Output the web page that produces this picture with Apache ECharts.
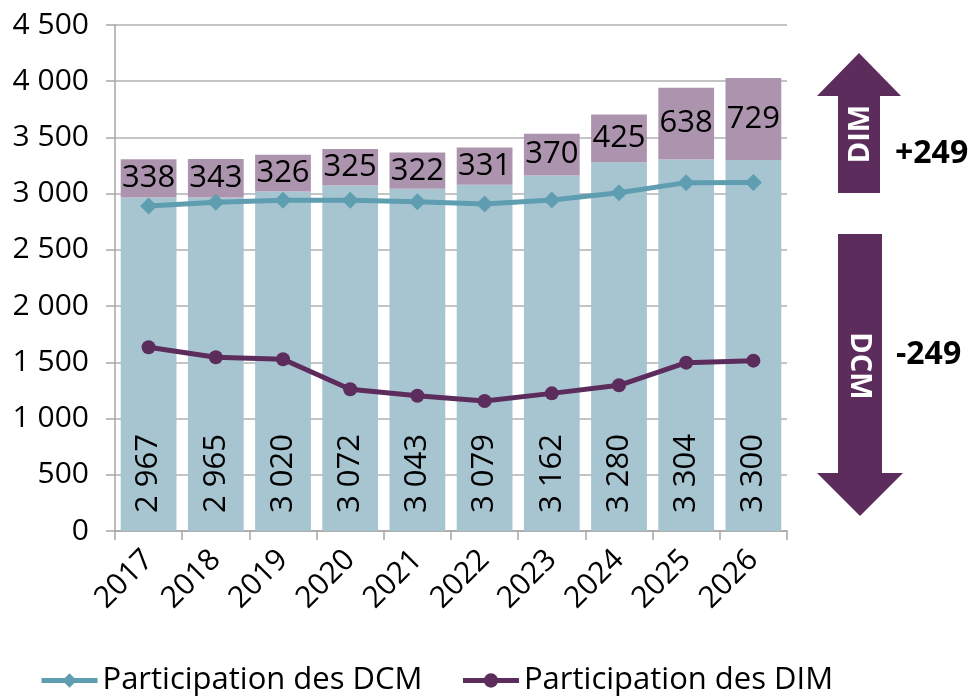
<!DOCTYPE html>
<html>
<head>
<meta charset="utf-8">
<script src="https://cdn.jsdelivr.net/npm/echarts@6/dist/echarts.min.js"></script>
<style>
  html, body { margin: 0; padding: 0; background: #fff; }
  #chart { width: 978px; height: 697px; }
</style>
</head>
<body>
<div id="chart"></div>
<script>
// 数据
var years = ['2017', '2018', '2019', '2020', '2021', '2022', '2023', '2024', '2025', '2026'];
var dcmBars = [2967, 2965, 3020, 3072, 3043, 3079, 3162, 3280, 3304, 3300];
var dimBars = [338, 343, 326, 325, 322, 331, 370, 425, 638, 729];
var dcmLine = [2890, 2923, 2941, 2941, 2929, 2908, 2944, 3009, 3098, 3100];
var dimLine = [1634, 1545, 1527, 1260, 1203, 1156, 1224, 1296, 1497, 1515];
var dimDelta = '+249';
var dcmDelta = '-249';

var FONT = 'Open Sans';
var purple = '#5c2d5c';
var teal = '#5f9db1';

// 千位空格
function fmt(v) {
  return String(v).replace(/\B(?=(\d{3})+(?!\d))/g, ' ');
}

var myChart = echarts.init(document.getElementById('chart'));

var option = {
  animation: false,
  textStyle: { fontFamily: FONT },
  grid: { left: 115, right: 191, top: 25, bottom: 166 },
  legend: {
    data: ['Participation des DCM', 'Participation des DIM'],
    left: 34,
    top: 660,
    itemWidth: 56,
    itemHeight: 18,
    itemGap: 38,
    lineStyle: { width: 5 },
    textStyle: { fontSize: 31, color: '#000', fontFamily: FONT }
  },
  xAxis: {
    type: 'category',
    data: years,
    axisLine: { lineStyle: { color: '#a6a6a6', width: 1.5 } },
    axisTick: { show: true, length: 9, lineStyle: { color: '#a6a6a6', width: 1.5 } },
    axisLabel: { rotate: 45, fontSize: 30, color: '#000', margin: 24, fontFamily: FONT }
  },
  yAxis: {
    type: 'value',
    min: 0,
    max: 4500,
    interval: 500,
    axisLine: { show: true, lineStyle: { color: '#a6a6a6', width: 1.5 } },
    axisTick: { show: true, length: 9, lineStyle: { color: '#a6a6a6', width: 1.5 } },
    splitLine: { lineStyle: { color: '#b0b0b0', width: 1.5 } },
    axisLabel: { fontSize: 30, color: '#000', margin: 26, fontFamily: FONT, formatter: fmt }
  },
  series: [
    {
      name: 'DCM',
      type: 'bar',
      stack: 'total',
      barCategoryGap: '17%',
      itemStyle: { color: '#a7c5d1' },
      label: {
        show: true,
        position: 'insideBottom',
        rotate: 90,
        align: 'left',
        verticalAlign: 'middle',
        distance: 18,
        fontSize: 31,
        color: '#000',
        fontFamily: FONT,
        formatter: function (p) { return fmt(p.value); }
      },
      data: dcmBars
    },
    {
      name: 'DIM',
      type: 'bar',
      stack: 'total',
      itemStyle: { color: '#ad94ae' },
      label: {
        show: true,
        position: 'inside',
        fontSize: 31,
        color: '#000',
        fontFamily: FONT
      },
      data: dimBars
    },
    {
      name: 'Participation des DCM',
      type: 'line',
      symbol: 'diamond',
      symbolSize: 17,
      lineStyle: { color: teal, width: 5 },
      itemStyle: { color: teal },
      data: dcmLine
    },
    {
      name: 'Participation des DIM',
      type: 'line',
      symbol: 'circle',
      symbolSize: 14,
      lineStyle: { color: purple, width: 5 },
      itemStyle: { color: purple },
      data: dimLine
    }
  ],
  graphic: [
    { // 向上箭头
      type: 'polygon',
      shape: { points: [[859, 53], [901, 96], [880, 96], [880, 193], [838, 193], [838, 96], [817, 96]] },
      style: { fill: purple }
    },
    {
      type: 'text',
      x: 861, y: 134,
      rotation: Math.PI / 2,
      style: { text: 'DIM', fill: '#fff', font: 'bold 29px "Open Sans"', align: 'center', verticalAlign: 'middle' }
    },
    {
      type: 'text',
      x: 895, y: 154,
      style: { text: dimDelta, fill: '#000', font: 'bold 32px "Open Sans"', align: 'left', verticalAlign: 'middle' }
    },
    { // 向下箭头
      type: 'polygon',
      shape: { points: [[838, 234], [882, 234], [882, 473], [903, 473], [860, 516], [817, 473], [838, 473]] },
      style: { fill: purple }
    },
    {
      type: 'text',
      x: 859, y: 366,
      rotation: -Math.PI / 2,
      style: { text: 'DCM', fill: '#fff', font: 'bold 29px "Open Sans"', align: 'center', verticalAlign: 'middle' }
    },
    {
      type: 'text',
      x: 896, y: 355,
      style: { text: dcmDelta, fill: '#000', font: 'bold 32px "Open Sans"', align: 'left', verticalAlign: 'middle' }
    }
  ]
};

myChart.setOption(option);
</script>
</body>
</html>
